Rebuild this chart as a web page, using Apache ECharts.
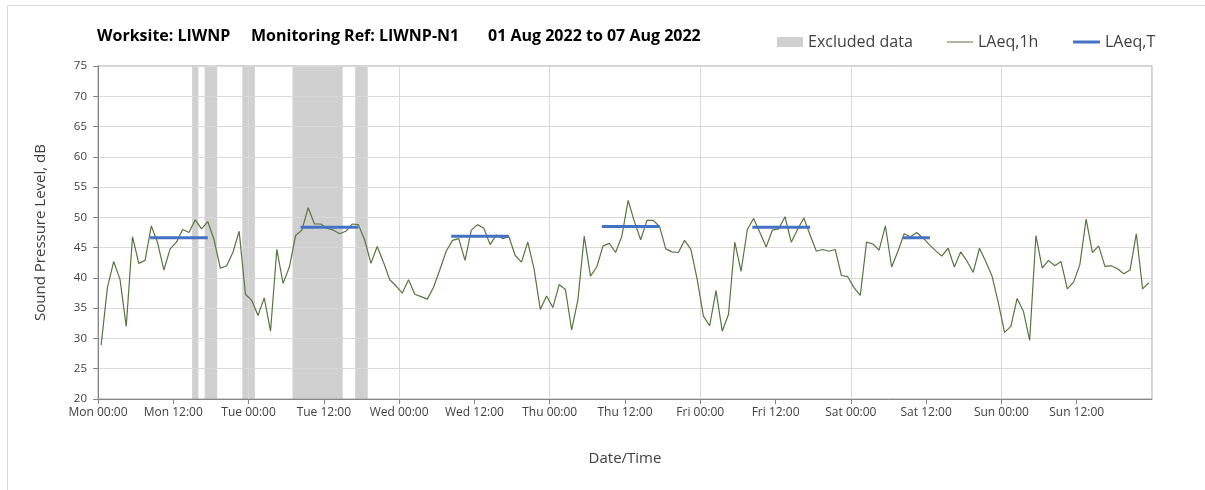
<!DOCTYPE html>
<html>
<head>
<meta charset="utf-8">
<script src="https://cdn.jsdelivr.net/npm/echarts@6/dist/echarts.min.js"></script>
<style>
  html, body { margin: 0; padding: 0; background: #fff; }
  #chart { width: 1205px; height: 490px; }
</style>
</head>
<body>
<div id="chart"></div>
<script>
// x axis runs in hours from Mon 00:00 (0) to the end of Sunday (168)
const xTickLabels = ['Mon 00:00', 'Mon 12:00', 'Tue 00:00', 'Tue 12:00', 'Wed 00:00', 'Wed 12:00',
  'Thu 00:00', 'Thu 12:00', 'Fri 00:00', 'Fri 12:00', 'Sat 00:00', 'Sat 12:00', 'Sun 00:00', 'Sun 12:00'];

// LAeq,1h - one value per hour, Mon 00:00 .. Sun 23:00
const laeq1h = [
  28.9, 38.4, 42.7, 39.8, 32.0, 46.8, 42.4, 42.9, 48.6, 45.8, 41.3, 44.8,
  45.9, 48.0, 47.5, 49.6, 48.1, 49.3, 46.3, 41.6, 42.0, 44.2, 47.7, 37.3,
  36.3, 33.8, 36.7, 31.2, 44.7, 39.1, 41.8, 47.0, 47.9, 51.6, 48.9, 48.9,
  48.2, 47.9, 47.3, 47.7, 48.9, 48.8, 46.3, 42.4, 45.2, 42.6, 39.7, 38.7,
  37.5, 39.7, 37.3, 36.9, 36.5, 38.5, 41.4, 44.4, 46.2, 46.5, 42.9, 47.9,
  48.8, 48.2, 45.5, 47.1, 46.5, 46.8, 43.7, 42.6, 45.9, 41.5, 34.8, 37.0,
  35.1, 38.9, 38.1, 31.4, 36.4, 46.9, 40.3, 41.8, 45.3, 45.7, 44.2, 46.9,
  52.8, 49.3, 46.3, 49.5, 49.5, 48.5, 44.8, 44.3, 44.2, 46.2, 44.7, 39.8,
  33.7, 32.1, 37.9, 31.2, 34.0, 45.9, 41.1, 48.0, 49.8, 47.5, 45.1, 47.9,
  48.1, 50.1, 45.9, 48.0, 49.9, 47.1, 44.4, 44.7, 44.4, 44.7, 40.4, 40.2,
  38.4, 37.1, 45.9, 45.6, 44.6, 48.6, 41.8, 44.4, 47.3, 46.8, 47.5, 46.6,
  45.5, 44.5, 43.6, 44.9, 41.8, 44.3, 42.8, 40.9, 44.9, 42.7, 40.3, 35.9,
  31.0, 32.0, 36.6, 34.5, 29.7, 47.0, 41.6, 42.9, 42.0, 42.7, 38.2, 39.3,
  42.2, 49.7, 44.2, 45.3, 41.9, 42.0, 41.5, 40.7, 41.3, 47.3, 38.2, 39.2
];

// LAeq,T - daytime period averages (start hour, end hour, level)
const periodStart = [8.3, 32.3, 56.3, 80.3, 104.3, 128.3];
const periodEnd = [17.5, 41.5, 65.5, 89.5, 113.5, 132.6];
const periodLevel = [46.65, 48.35, 46.9, 48.5, 48.35, 46.65];

// excluded data windows (start hour, end hour)
const excludedStart = [15, 17, 23, 31, 41];
const excludedEnd = [16, 19, 25, 39, 43];

const hourlyData = laeq1h.map(function (v, i) { return [i + 0.5, v]; });

const periodData = [];
periodStart.forEach(function (s, i) {
  periodData.push([s, periodLevel[i]]);
  periodData.push([periodEnd[i], periodLevel[i]]);
  periodData.push([periodEnd[i], '-']);
});

const excludedData = excludedStart.map(function (s, i) { return [s, excludedEnd[i], 20, 75]; });

const fontFam = '"Open Sans", "Liberation Sans", sans-serif';
const textCol = '#404040';
const legendText = { fontSize: 16, color: textCol, fontFamily: fontFam };

let myChart = echarts.init(document.getElementById('chart'));
let option = {
  animation: false,
  backgroundColor: '#fff',
  textStyle: { fontFamily: fontFam },
  graphic: [
    {
      type: 'rect', silent: true, z: -10,
      shape: { x: 7.5, y: 5.5, width: 1300, height: 600 },
      style: { fill: 'none', stroke: '#d9d9d9', lineWidth: 1 }
    },
    { type: 'text', left: 97, top: 28, style: { text: 'Worksite: LIWNP', font: 'bold 16px ' + fontFam, fill: '#000' } },
    { type: 'text', left: 251, top: 28, style: { text: 'Monitoring Ref: LIWNP-N1', font: 'bold 16px ' + fontFam, fill: '#000' } },
    { type: 'text', left: 488, top: 28, style: { text: '01 Aug 2022 to 07 Aug 2022', font: 'bold 16px ' + fontFam, fill: '#000' } }
  ],
  legend: [
    {
      left: 777, top: 34, padding: 0, itemWidth: 26, itemHeight: 10,
      textStyle: legendText,
      data: [{ name: 'Excluded data', icon: 'rect' }]
    },
    {
      left: 947, top: 34, padding: 0, itemWidth: 26, itemHeight: 1,
      textStyle: legendText,
      data: [{ name: 'LAeq,1h', icon: 'rect' }]
    },
    {
      left: 1073, top: 34, padding: 0, itemWidth: 27, itemHeight: 3,
      textStyle: legendText,
      data: [{ name: 'LAeq,T', icon: 'rect' }]
    }
  ],
  grid: {
    left: 98, right: 53, top: 66, bottom: 91,
    show: true, borderColor: '#a6a6a6', borderWidth: 1
  },
  xAxis: [
    {
      // daily gridlines only
      type: 'value', min: 0, max: 168, interval: 24, position: 'bottom',
      axisLine: { show: false }, axisTick: { show: false }, axisLabel: { show: false },
      splitLine: { show: true, lineStyle: { color: '#d9d9d9', width: 1 } }
    },
    {
      type: 'value', min: 0, max: 168, interval: 12, position: 'bottom',
      name: 'Date/Time', nameLocation: 'middle', nameGap: 52,
      nameTextStyle: { fontSize: 15, color: textCol, fontFamily: fontFam },
      axisLine: { show: true, lineStyle: { color: '#868686' } },
      axisTick: { show: true, length: 5, lineStyle: { color: '#868686' } },
      splitLine: { show: false },
      axisLabel: {
        fontSize: 12, color: textCol, margin: 8, showMaxLabel: false,
        formatter: function (v) { return xTickLabels[Math.round(v / 12)] || ''; }
      }
    }
  ],
  yAxis: {
    type: 'value', min: 20, max: 75, interval: 5,
    name: 'Sound Pressure Level, dB', nameLocation: 'middle', nameGap: 50,
    nameTextStyle: { fontSize: 15, color: textCol, fontFamily: fontFam },
    axisLine: { show: true, lineStyle: { color: '#868686' } },
    axisTick: { show: true, length: 5, lineStyle: { color: '#868686' } },
    axisLabel: { fontSize: 11.5, color: textCol, margin: 11 },
    splitLine: { show: true, lineStyle: { color: '#d9d9d9', width: 1 } }
  },
  series: [
    {
      name: 'Excluded data',
      type: 'custom',
      xAxisIndex: 1,
      z: -1,
      itemStyle: { color: '#d0d0d0' },
      encode: { x: [0, 1], y: [2, 3] },
      renderItem: function (params, api) {
        let p0 = api.coord([api.value(0), api.value(3)]);
        let p1 = api.coord([api.value(1), api.value(2)]);
        return {
          type: 'rect',
          shape: { x: p0[0], y: p0[1], width: p1[0] - p0[0], height: p1[1] - p0[1] },
          style: { fill: '#d0d0d0' }
        };
      },
      data: excludedData
    },
    {
      name: 'LAeq,1h',
      type: 'line',
      xAxisIndex: 1,
      symbol: 'none',
      color: '#56763f',
      lineStyle: { color: '#56763f', width: 1.2 },
      data: hourlyData
    },
    {
      name: 'LAeq,T',
      type: 'line',
      xAxisIndex: 1,
      symbol: 'none',
      color: '#4472c4',
      connectNulls: false,
      lineStyle: { color: '#4472c4', width: 3, cap: 'butt' },
      data: periodData
    }
  ]
};

myChart.setOption(option);
window.onresize = myChart.resize;
</script>
</body>
</html>
